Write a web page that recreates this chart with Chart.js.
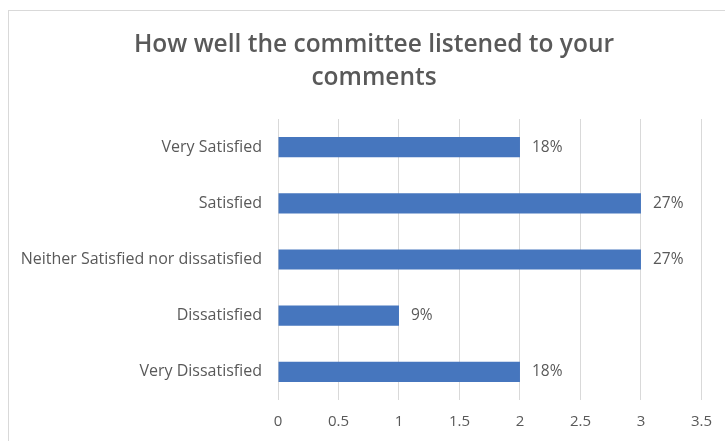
<!DOCTYPE html>
<html>
<head>
<meta charset="utf-8">
<script src="https://cdn.jsdelivr.net/npm/chart.js@4"></script>
<style>
    html, body { margin: 0; padding: 0; background: #fff; overflow: hidden; }
    #frame { position: absolute; left: 8px; top: 10px; width: 760px; height: 460px; border: 1px solid #d9d9d9; box-sizing: border-box; }
    #wrap { position: absolute; left: 0; top: 0; width: 725px; height: 441px; }
</style>
</head>
<body>
<div id="frame"></div>
<div id="wrap"><canvas id="myBarChart"></canvas></div>
<script>
// Chart data
const categories = ['Very Satisfied', 'Satisfied', 'Neither Satisfied nor dissatisfied', 'Dissatisfied', 'Very Dissatisfied'];
const counts = [2, 3, 3, 1, 2];
const percentLabels = ['18%', '27%', '27%', '9%', '18%'];
const xTicks = [0, 0.5, 1, 1.5, 2, 2.5, 3, 3.5];
const chartTitle = ['How well the committee listened to your', 'comments'];

const textColor = '#595959';
const fontFamily = '"Open Sans", "Noto Sans", sans-serif';

// Title drawn centred on the frame rather than the canvas
const titleText = {
    id: 'titleText',
    afterDraw(chart) {
        const ctx = chart.ctx;
        ctx.save();
        ctx.font = '600 24.5px ' + fontFamily;
        ctx.fillStyle = textColor;
        ctx.textAlign = 'center';
        ctx.textBaseline = 'middle';
        chartTitle.forEach((line, i) => ctx.fillText(line, 374, 45 + i * 33));
        ctx.restore();
    }
};

// Draw the percentage labels just after each bar
const barLabels = {
    id: 'barLabels',
    afterDatasetsDraw(chart) {
        const ctx = chart.ctx;
        const meta = chart.getDatasetMeta(0);
        ctx.save();
        ctx.font = '15.5px ' + fontFamily;
        ctx.fillStyle = textColor;
        ctx.textAlign = 'left';
        ctx.textBaseline = 'middle';
        meta.data.forEach((bar, i) => {
            ctx.fillText(percentLabels[i], bar.x + 12, bar.y);
        });
        ctx.restore();
    }
};

const ctx = document.getElementById('myBarChart').getContext('2d');
const myBarChart = new Chart(ctx, {
    type: 'bar',
    data: {
        labels: categories,
        datasets: [{
            data: counts,
            backgroundColor: '#4676be',
            categoryPercentage: 0.36,
            barPercentage: 1
        }]
    },
    options: {
        indexAxis: 'y',
        responsive: true,
        maintainAspectRatio: false,
        animation: false,
        layout: { padding: { left: 0, right: 22, top: 119, bottom: 0 } },
        plugins: {
            legend: { display: false },
            tooltip: { enabled: false },
            title: { display: false }
        },
        scales: {
            x: {
                min: 0,
                max: 3.5,
                afterBuildTicks: (axis) => { axis.ticks = xTicks.map(v => ({ value: v })); },
                afterFit: (axis) => { axis.height = 41; },
                grid: { color: '#d9d9d9', drawTicks: false },
                border: { display: false },
                ticks: {
                    color: textColor,
                    padding: 13,
                    font: { family: fontFamily, size: 15 },
                    callback: (v) => String(v)
                }
            },
            y: {
                afterFit: (axis) => { axis.width = 278; },
                grid: { display: false, drawTicks: false },
                border: { display: false },
                ticks: { color: textColor, padding: 16, font: { family: fontFamily, size: 16 } }
            }
        }
    },
    plugins: [barLabels, titleText]
});
</script>
</body>
</html>
